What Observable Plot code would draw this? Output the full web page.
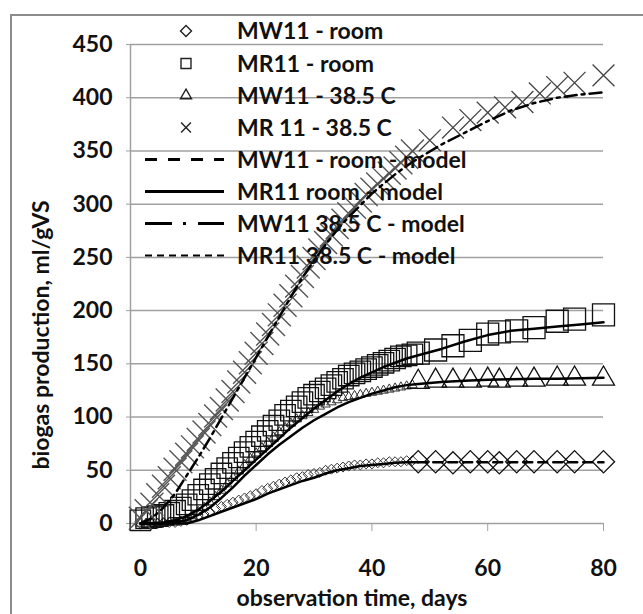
<!DOCTYPE html>
<html><head><meta charset="utf-8">
<script src="https://cdn.jsdelivr.net/npm/d3@7"></script>
<script src="https://cdn.jsdelivr.net/npm/@observablehq/plot@0.6"></script>
<style>
body{margin:0;background:#fff;}
#wrap{position:relative;width:643px;height:614px;overflow:hidden;font-family:Lato,"Open Sans",sans-serif;background:#fff;}
#frame{position:absolute;left:10px;top:14px;width:700px;height:700px;border:2px solid #8c8c8c;pointer-events:none;}
#legend{position:absolute;left:0;top:0;}
</style></head><body>
<div id="wrap"><div id="chart"></div><svg id="legend" width="643" height="614"></svg><div id="frame"></div></div>
<script>
// ---- data ----
const daysDense = [0,1,2,3,4,5,6,7,8,9,10,11,12,13,14,15,16,17,18,19,20,21,22,23,24,25,26,27,28,29,30,31,32,33,34,35,36,37,38,39,40,41,42,43,44,45,46,47];
const mw11Room = [0,0,0,0,1,1,1,2, 3,5,7,9,11,14,16,18, 20,22,24,26,28,31,33,35, 37,39,41,43,44,46,47,48, 50,51,52,53,54,55,55,56, 56,57,57,58,58,58,59,59];
const mr11Room = [3,5,6,7,8,10,12,15, 18,22,27,32,37,42,47,52, 57,62,67,72,77,82,87,92, 97,102,106,110,114,118,121,124, 127,130,133,136,139,141,143,145, 147,149,151,153,155,157,158,159];
const mw11Hot = [0,0,0,0,0,1,1,2, 4,7,11,15,20,25,31,37, 43,49,55,61,66,71,76,81, 86,90,94,98,101,104,107,110, 112,114,116,118,119,120,121,122, 123,124,125,126,127,128,129,130];
const mr11Hot = [5,12,18,27,35,43,51,58, 65,72,79,86,93,101,108,116, 124,133,142,151,160,169,178,187, 196,205,214,223,232,241,249,257, 264,271,278,285,291,297,303,309, 314,319,324,329,334,339,344,350];

const lateDays = [48,51,54,57,60,62,65,68,72,75,80];
const mw11RoomLate = [58,58,57,58,58,57,58,58,58,58,58];
const mr11RoomLate = [160,163,167,172,178,180,181,184,190,192,196];
const mw11HotLate = [133,134,134,134,135,134,135,135,136,136,136];
const mr11HotLateDays = [50,54,57,60,63,66,69,72,75,80];
const mr11HotLate = [360,372,379,386,391,396,404,410,414,421];

const modelDays = [0,2,4,6,8,10,12,14,16,18,20,22,24,26,28,30,32,34,36,38,40,42,44,46,48,52,56,60,64,68,72,76,80];
const mw11RoomModel = [0,0,0,0,0,3,7,11,15,19,23,28,32,36,40,43,47,50,52,54,55,56,57,57.5,57.5,57.5,57.5,57.5,57.5,57.5,57.5,57.5,57.5];
const mr11RoomModel = [0,0,1,3,7,13,21,30,40,50,60,70,80,90,99,108,116,124,131,137,142,147,151,155,158,164,171,177,181,183,185,187,189];
const mw11HotModel = [0,0,0,1,3,8,15,24,34,45,55,65,74,82,90,97,103,109,114,118,122,125,128,130,131,133,134,135,135.5,136,136,136.5,137];
const mr11HotModel = [0,5,15,28,45,62,80,99,118,137,156,175,194,213,231,247,262,276,288,299,310,319,328,336,343,356,367,378,388,395,400,403,405];

const yTicks = [0,50,100,150,200,250,300,350,400,450];
const xTicks = [0,20,40,60,80];
const xDomain = [-1.7, 80];
const yDomain = [0, 450];

const legendLabels = ["MW11 - room","MR11 - room","MW11 - 38.5 C","MR 11 - 38.5 C","MW11 - room - model","MR11 room - model","MW11 38.5 C - model","MR11 38.5 C - model"];

// ---- build ----
const rows = (xs, ys) => xs.map((x, i) => ({x, y: ys[i]}));
const mark = {stroke: "#111", fill: "none", strokeWidth: 1.3};
const FONT = "Lato, 'Open Sans', sans-serif";

const chart = Plot.plot({
  width: 643, height: 614,
  marginLeft: 130, marginRight: 40, marginTop: 44, marginBottom: 91,
  style: {fontFamily: FONT, fontSize: "23px", fontWeight: "bold", color: "#000", background: "transparent"},
  x: {domain: xDomain},
  y: {domain: yDomain},
  marks: [
    Plot.gridY(yTicks, {stroke: "#a0a0a0", strokeOpacity: 1, strokeWidth: 1.5}),
    Plot.ruleX([xDomain[0]], {stroke: "#a0a0a0", strokeWidth: 1.5}),
    Plot.axisY(yTicks, {tickSize: 4, tickPadding: 14, stroke: "#a0a0a0", fill: "#111", label: null}),
    Plot.axisX(xTicks, {tickSize: 8, tickPadding: 28, stroke: "#a0a0a0", fill: "#111", label: null}),
    Plot.text(["biogas production, ml/gVS"], {frameAnchor: "left", rotate: -90, dx: -89, dy: 51, textAnchor: "middle", lineAnchor: "middle", fill: "#111"}),
    Plot.text(["observation time, days"], {frameAnchor: "bottom", dx: -15, dy: 75, textAnchor: "middle", lineAnchor: "middle", fill: "#111"}),
    // data markers
    Plot.dot(rows(daysDense, mw11Room), {x: "x", y: "y", symbol: "diamond2", r: 4.5, ...mark, stroke: "#333", strokeWidth: 1}),
    Plot.dot(rows(daysDense, mw11Hot), {x: "x", y: "y", symbol: "triangle2", r: 4.5, ...mark, stroke: "#333", strokeWidth: 1}),
    Plot.dot(rows(daysDense, mr11Room), {x: "x", y: "y", symbol: "square2", r: 13, ...mark}),
    Plot.dot(rows(daysDense, mr11Hot), {x: "x", y: "y", symbol: "times", r: 10.5, ...mark, stroke: "#555", strokeWidth: 1.4}),
    Plot.dot(rows(lateDays, mw11RoomLate), {x: "x", y: "y", symbol: "diamond2", r: 10, ...mark}),
    Plot.dot(rows(lateDays, mr11RoomLate), {x: "x", y: "y", symbol: "square2", r: 14, ...mark}),
    Plot.dot(rows(lateDays, mw11HotLate), {x: "x", y: "y", symbol: "triangle2", r: 10.5, ...mark}),
    Plot.dot(rows(mr11HotLateDays, mr11HotLate), {x: "x", y: "y", symbol: "times", r: 10, ...mark, stroke: "#444"}),
    // model lines
    Plot.line(rows(modelDays, mw11RoomModel).filter(d => d.x <= 48), {x: "x", y: "y", stroke: "#000", strokeWidth: 2.5}),
    Plot.line(rows(modelDays, mw11RoomModel).filter(d => d.x >= 48), {x: "x", y: "y", stroke: "#000", strokeWidth: 2.5, strokeDasharray: "9,6"}),
    Plot.line(rows(modelDays, mr11RoomModel), {x: "x", y: "y", stroke: "#000", strokeWidth: 2.5}),
    Plot.line(rows(modelDays, mw11HotModel), {x: "x", y: "y", stroke: "#000", strokeWidth: 2.5}),
    Plot.line(rows(modelDays, mr11HotModel), {x: "x", y: "y", stroke: "#000", strokeWidth: 2.5, strokeDasharray: "12,5,3,5"})
  ]
});
document.getElementById("chart").appendChild(chart);

// ---- legend overlay ----
const lg = d3.select("#legend");
const rowY = [31, 63.5, 95.5, 127.5, 159.5, 191.5, 223.5, 255.5];
const symX = 186, txtX = 237, lineX0 = 145, lineX1 = 224;
const syms = [[d3.symbolDiamond2, 77], [d3.symbolSquare2, 127], [d3.symbolTriangle2, 87], [d3.symbolTimes, 65]];
syms.forEach(([s, size], i) => {
  lg.append("path").attr("d", d3.symbol(s, size)()).attr("transform", `translate(${symX},${rowY[i]})`)
    .attr("fill", "none").attr("stroke", "#222").attr("stroke-width", 1.4);
});
const dashes = ["12,11", null, "27,11,3,12", "7,5"];
dashes.forEach((da, i) => {
  const l = lg.append("line").attr("x1", lineX0).attr("x2", lineX1).attr("y1", rowY[i + 4]).attr("y2", rowY[i + 4])
    .attr("stroke", "#000").attr("stroke-width", i === 3 ? 2 : 3);
  if (da) l.attr("stroke-dasharray", da);
});
legendLabels.forEach((t, i) => {
  lg.append("text").attr("x", txtX).attr("y", rowY[i]).attr("dy", "0.35em")
    .attr("font-family", FONT).attr("font-size", 23).attr("font-weight", "bold").attr("fill", "#111").text(t);
});
</script>
</body></html>
